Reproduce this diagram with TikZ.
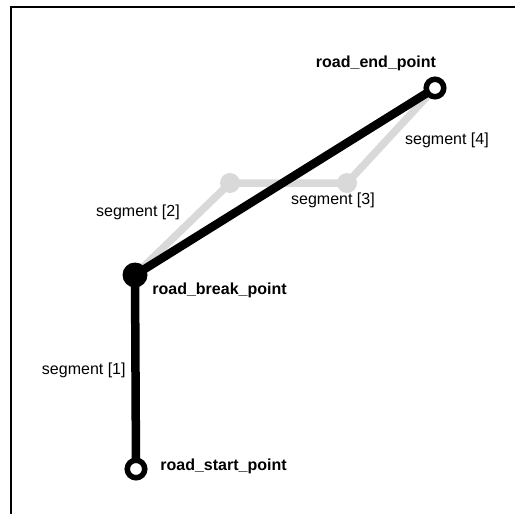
\documentclass[tikz,border=0pt]{standalone}
\usepackage{fontspec}
\setmainfont{Liberation Sans}
\usetikzlibrary{positioning,backgrounds}

\begin{document}
\begin{tikzpicture}[x=0.5pt, y=-0.5pt, every node/.style={font=\fontsize{8}{9.6}\selectfont, inner sep=0pt},
    openpt/.style={circle, draw=black, fill=white, line width=2.75pt, minimum size=8.75pt, inner sep=0pt},
    breakpt/.style={circle, fill=black, minimum size=12.5pt, inner sep=0pt},
    viapt/.style={circle, fill=black!15, minimum size=10pt, inner sep=0pt},
    roadline/.style={line width=4.25pt, black},
    segline/.style={line width=3.75pt, black!15},
    ptlabel/.style={font=\fontsize{8}{9.6}\selectfont\bfseries}]
    \useasboundingbox (0,0) rectangle (515,514);
    \draw[line width=0.75pt] (11,530) -- (11,7) -- (530,7);

    % points
    \node[openpt] (start) at (136,469) {};
    \node[breakpt] (brk) at (135,275) {};
    \node[openpt] (end) at (435,88) {};
    \node[viapt] (via1) at (230,183) {};
    \node[viapt] (via2) at (347,183) {};

    \begin{pgfonlayer}{background}
        \draw[segline] (brk.center) -- (via1.center) -- (via2.center) -- (end.center);
        \draw[roadline] (start.center) -- (brk.center) -- (end.center);
    \end{pgfonlayer}

    \node[ptlabel] (endlbl) at (376,63) {road\_end\_point};
    \node[ptlabel, anchor=west] (brklbl) at (152,290) {road\_break\_point};
    \node[ptlabel, anchor=west] (startlbl) at (160,466) {road\_start\_point};

    \node[anchor=east] (seg1) at (126,370) {segment [1]};
    \node (seg2) at (138,212) {segment [2]};
    \node (seg3) at (333,200) {segment [3]};
    \node (seg4) at (447,140) {segment [4]};
\end{tikzpicture}
\end{document}
